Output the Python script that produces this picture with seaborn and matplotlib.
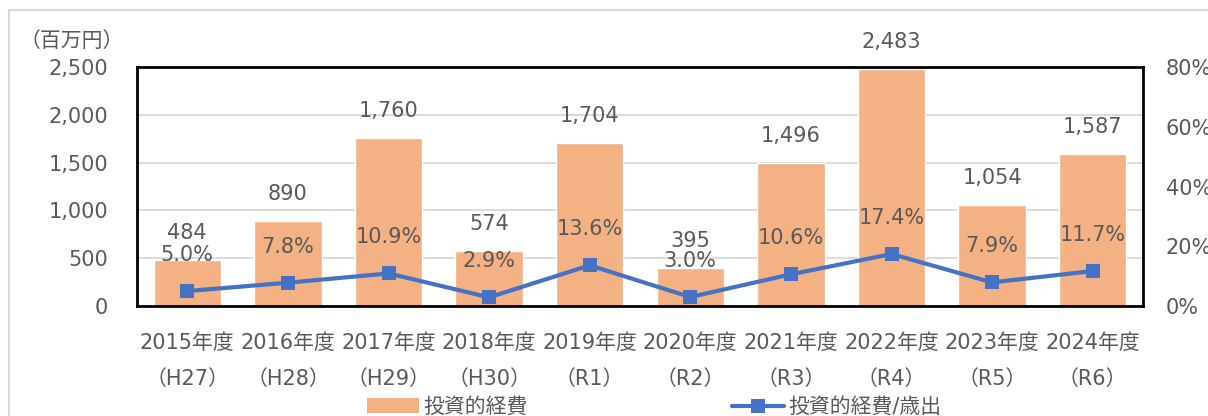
import matplotlib
matplotlib.use("Agg")
import matplotlib.pyplot as plt
import seaborn as sns
import pandas as pd
from matplotlib.patches import Rectangle, Patch
from matplotlib.lines import Line2D
from matplotlib.ticker import FuncFormatter, MultipleLocator

years = ["2015年度", "2016年度", "2017年度", "2018年度", "2019年度",
         "2020年度", "2021年度", "2022年度", "2023年度", "2024年度"]
eras = ["（H27）", "（H28）", "（H29）", "（H30）", "（R1）",
        "（R2）", "（R3）", "（R4）", "（R5）", "（R6）"]
spending = [484, 890, 1760, 574, 1704, 395, 1496, 2483, 1054, 1587]
ratio = [5.0, 7.8, 10.9, 2.9, 13.6, 3.0, 10.6, 17.4, 7.9, 11.7]

bar_color = "#F4B183"
line_color = "#4472C4"
text_color = "#595959"
fs = 15

sns.set_theme(style="white")
plt.rcParams["font.family"] = ["DejaVu Sans", "Noto Sans CJK JP"]

fig = plt.figure(figsize=(12.08, 4.16), dpi=100)
# outer chart frame (cropped at right/bottom)
fig.patches.append(Rectangle((9 / 1208, -0.1), 1.2, 1 - 10 / 416 + 0.1,
                             transform=fig.transFigure, fill=False,
                             edgecolor="#D9D9D9", linewidth=1.5))

ax = fig.add_axes([137 / 1208, 1 - 306 / 416, 1006 / 1208, 239 / 416])
df = pd.DataFrame({"label": [f"{y}\n{e}" for y, e in zip(years, eras)],
                   "value": spending})
sns.barplot(data=df, x="label", y="value", color=bar_color, width=0.67,
            saturation=1, ax=ax, zorder=2)
ax.set_xlim(-0.5, len(years) - 0.5)
ax.set_ylim(0, 2500)
ax.yaxis.set_major_locator(MultipleLocator(500))
ax.yaxis.set_major_formatter(FuncFormatter(lambda v, p: f"{int(v):,}"))
ax.grid(axis="y", color="#D9D9D9", linewidth=1.3, zorder=0)
ax.set_axisbelow(True)
ax.set_xlabel("")
ax.set_ylabel("")
for s in ax.spines.values():
    s.set_color("black")
    s.set_linewidth(2)
ax.tick_params(axis="y", length=0, pad=21, labelsize=fs, labelcolor=text_color)
ax.tick_params(axis="x", which="major", length=0, pad=19.5, labelsize=fs,
               labelcolor=text_color)
for t in ax.get_xticklabels():
    t.set_linespacing(1.98)
ax.set_xticks([i + 0.5 for i in range(len(years) - 1)], minor=True)
ax.tick_params(axis="x", which="minor", direction="in", length=5, width=1.5,
               color="black")

for i, v in enumerate(spending):
    ax.annotate(f"{v:,}", (i, v), xytext=(0, 27), textcoords="offset pixels",
                ha="center", va="center", fontsize=fs, color=text_color,
                annotation_clip=False)

ax2 = ax.twinx()
sns.lineplot(x=list(range(len(ratio))), y=[r / 100 for r in ratio], ax=ax2,
             color=line_color, linewidth=3, marker="s", markersize=10.5,
             markeredgewidth=0)
ax2.set_ylim(0, 0.8)
ax2.yaxis.set_major_locator(MultipleLocator(0.2))
ax2.yaxis.set_major_formatter(FuncFormatter(lambda v, p: f"{v * 100:.0f}%"))
ax2.tick_params(axis="y", length=0, pad=16.5, labelsize=fs, labelcolor=text_color)
ax2.set_ylabel("")
for s in ax2.spines.values():
    s.set_visible(False)
for i, r in enumerate(ratio):
    ax2.annotate(f"{r:.1f}%", (i, r / 100), xytext=(0, 36),
                 textcoords="offset pixels", ha="center", va="center",
                 fontsize=fs, color=text_color)

fig.text(72 / 1208, 1 - 41 / 416, "（百万円）", ha="center", va="center",
         fontsize=fs, color=text_color)

handles = [Patch(facecolor=bar_color, edgecolor="none"),
           Line2D([0], [0], color=line_color, linewidth=3, marker="s",
                  markersize=10.5, markeredgewidth=0)]
fig.legend(handles, ["投資的経費", "投資的経費/歳出"], loc="center",
           bbox_to_anchor=(654 / 1208, 9 / 416), ncol=2, frameon=False,
           fontsize=fs, handlelength=2.5, handletextpad=0.2,
           columnspacing=9.8, labelcolor=text_color)

fig.savefig("out.png", dpi=100)
